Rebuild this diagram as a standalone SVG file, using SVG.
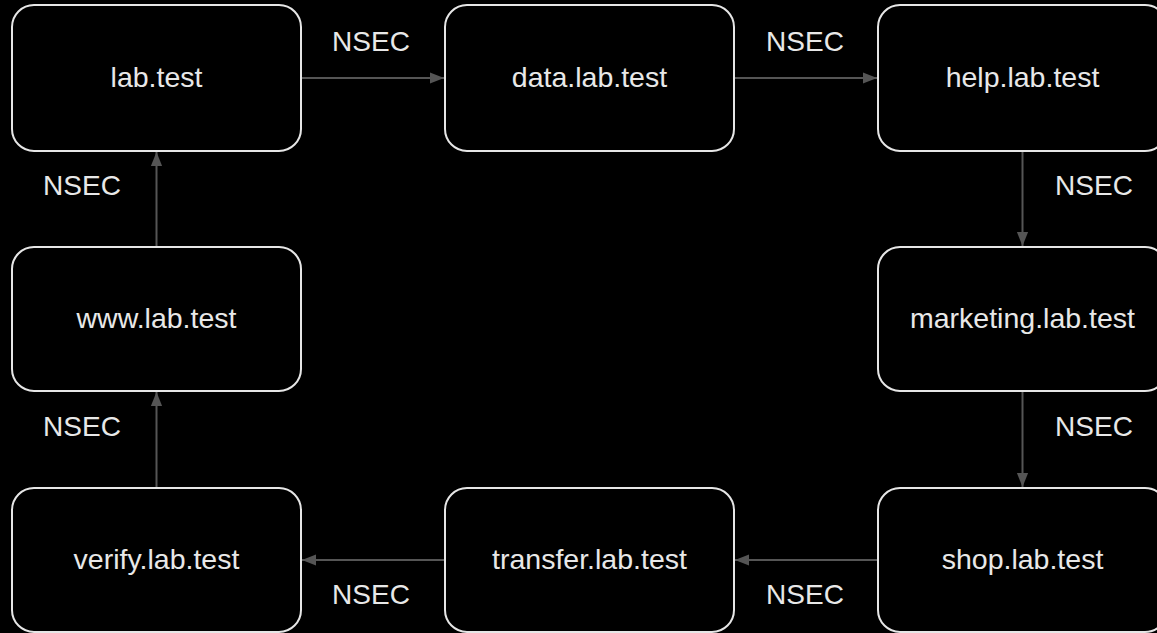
<svg xmlns="http://www.w3.org/2000/svg" width="1157" height="633" viewBox="0 0 1157 633">
<style>
.bg{fill:#000}
.node rect{fill:#000;stroke:#e6e6e6;stroke-width:2}
.node text,.lbl{font-family:"Liberation Sans",Arial,sans-serif;fill:#e8e8e8;text-anchor:middle}
.node text{font-size:28.5px}
.lbl{font-size:28px}
.edge{stroke:#555;stroke-width:2;fill:none;marker-end:url(#arr)}
</style>
<defs>
<marker id="arr" viewBox="0 0 10 10" refX="10" refY="5" markerWidth="7" markerHeight="7" markerUnits="strokeWidth" orient="auto">
<path d="M0,1 L10,5 L0,9 Z" fill="#555"/>
</marker>
</defs>
<rect class="bg" x="0" y="0" width="1157" height="633"/>
<g id="connectors">
<path class="edge" d="M301,78 H444"/>
<path class="edge" d="M734,78 H877"/>
<path class="edge" d="M1022.5,151 V246"/>
<path class="edge" d="M1022.5,391 V487"/>
<path class="edge" d="M878,560 H735"/>
<path class="edge" d="M445,560 H302"/>
<path class="edge" d="M156.5,488 V392"/>
<path class="edge" d="M156.5,247 V152"/>
<text class="lbl" x="371" y="51">NSEC</text>
<text class="lbl" x="805" y="51">NSEC</text>
<text class="lbl" x="1094" y="195">NSEC</text>
<text class="lbl" x="1094" y="436">NSEC</text>
<text class="lbl" x="805" y="604">NSEC</text>
<text class="lbl" x="371" y="604">NSEC</text>
<text class="lbl" x="82" y="195">NSEC</text>
<text class="lbl" x="82" y="436">NSEC</text>
</g>
<g id="n-lab" class="node"><rect x="12" y="5" width="289" height="146" rx="22"/><text x="156.5" y="87">lab.test</text></g>
<g id="n-data" class="node"><rect x="445" y="5" width="289" height="146" rx="22"/><text x="589.5" y="87">data.lab.test</text></g>
<g id="n-help" class="node"><rect x="878" y="5" width="289" height="146" rx="22"/><text x="1022.5" y="87">help.lab.test</text></g>
<g id="n-marketing" class="node"><rect x="878" y="247" width="289" height="144" rx="22"/><text x="1022.5" y="328">marketing.lab.test</text></g>
<g id="n-shop" class="node"><rect x="878" y="488" width="289" height="144" rx="22"/><text x="1022.5" y="569">shop.lab.test</text></g>
<g id="n-transfer" class="node"><rect x="445" y="488" width="289" height="144" rx="22"/><text x="589.5" y="569">transfer.lab.test</text></g>
<g id="n-verify" class="node"><rect x="12" y="488" width="289" height="144" rx="22"/><text x="156.5" y="569">verify.lab.test</text></g>
<g id="n-www" class="node"><rect x="12" y="247" width="289" height="144" rx="22"/><text x="156.5" y="328">www.lab.test</text></g>
</svg>
